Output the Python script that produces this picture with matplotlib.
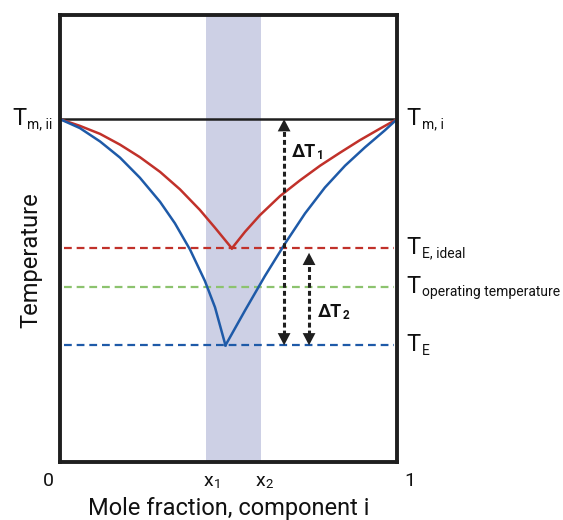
import matplotlib
matplotlib.use('Agg')
import matplotlib.pyplot as plt

plt.rcParams['font.family'] = ['Roboto', 'DejaVu Sans']

# liquidus curves (x = mole fraction of i, y = scaled temperature)
red_left_x = [0, 0.059, 0.119, 0.178, 0.237, 0.297, 0.356, 0.415, 0.460, 0.510]
red_left_y = [0.767, 0.752, 0.734, 0.710, 0.682, 0.649, 0.610, 0.564, 0.524, 0.478]
red_right_x = [0.510, 0.549, 0.593, 0.653, 0.712, 0.772, 0.831, 0.890, 0.950, 1.0]
red_right_y = [0.478, 0.515, 0.552, 0.595, 0.630, 0.663, 0.692, 0.720, 0.746, 0.767]
blue_left_x = [0, 0.059, 0.119, 0.178, 0.237, 0.297, 0.341, 0.386, 0.430, 0.460, 0.491]
blue_left_y = [0.767, 0.747, 0.717, 0.681, 0.636, 0.582, 0.534, 0.475, 0.405, 0.346, 0.261]
blue_right_x = [0.491, 0.549, 0.608, 0.668, 0.727, 0.786, 0.846, 0.905, 0.964, 1.0]
blue_right_y = [0.261, 0.339, 0.416, 0.489, 0.556, 0.614, 0.663, 0.704, 0.742, 0.767]

# temperature levels
t_melt = 0.767
t_e_ideal = 0.478
t_operating = 0.391
t_e = 0.261

# composition window and arrow positions
x1, x2 = 0.434, 0.595
dt1_x = 0.665
dt2_x = 0.739
dt2_top = 0.468

RED = '#c1312a'
BLUE = '#1e5aa8'
GREEN = '#8cc36e'
DARK = '#1f1f1f'

fig = plt.figure(figsize=(5.63, 5.2), dpi=100)
ax = fig.add_axes([60 / 563, 1 - 462 / 520, 337 / 563, 447 / 520])
ax.set_xlim(0, 1)
ax.set_ylim(0, 1)
ax.set_xticks([])
ax.set_yticks([])
for s in ax.spines.values():
    s.set_linewidth(2.8)
    s.set_color(DARK)
    s.set_zorder(10)

ax.axvspan(x1, x2, color='#cdd0e5', lw=0, zorder=0)

dash = (0, (3.5, 2.2))
ax.plot([0.012, 0.99], [t_e_ideal, t_e_ideal], color=RED, lw=1.6, linestyle=dash, zorder=1)
ax.plot([0.012, 0.99], [t_operating, t_operating], color=GREEN, lw=1.6, linestyle=dash, zorder=1)
ax.plot([0.012, 0.99], [t_e, t_e], color=BLUE, lw=1.6, linestyle=dash, zorder=1)
ax.plot([0, 1], [t_melt, t_melt], color=DARK, lw=1.8, zorder=2)

ax.plot(red_left_x, red_left_y, color=RED, lw=1.8, zorder=3, solid_joinstyle='round')
ax.plot(red_right_x, red_right_y, color=RED, lw=1.8, zorder=3, solid_joinstyle='round')
ax.plot(blue_left_x, blue_left_y, color=BLUE, lw=1.8, zorder=3, solid_joinstyle='round')
ax.plot(blue_right_x, blue_right_y, color=BLUE, lw=1.8, zorder=3, solid_joinstyle='round')


def double_arrow(x, y0, y1):
    head = 0.024
    ax.plot([x, x], [y0 + head, y1 - head], color=DARK, lw=2.2,
            linestyle=(0, (1.6, 1.0)), zorder=4)
    for tip, tail in ((y1, y1 - 0.05), (y0, y0 + 0.05)):
        ax.annotate('', xy=(x, tip), xytext=(x, tail),
                    arrowprops=dict(arrowstyle='-|>,head_length=0.44,head_width=0.23',
                                    mutation_scale=20, lw=0, color=DARK,
                                    shrinkA=0, shrinkB=0), zorder=5)


double_arrow(dt1_x, t_e, t_melt)
double_arrow(dt2_x, t_e, dt2_top)


def sub_text(x, y, main, sub, size, subsize, weight='normal', dy=-3.6, sdy=-1.3, sdx=1.2):
    t = ax.annotate(main, xy=(x, y), xytext=(0, dy), textcoords='offset points',
                    fontsize=size, fontweight=weight, va='baseline', ha='left',
                    color='#111111', annotation_clip=False)
    ax.annotate(sub, xy=(1, 0), xycoords=t, xytext=(sdx, sdy), textcoords='offset points',
                fontsize=subsize, fontweight=weight, va='bottom', ha='left',
                color='#111111', annotation_clip=False)


# temperature labels
sub_text(-0.1424, t_melt, 'T', 'm, ii', 17, 10, dy=-4.2, sdy=-1.0, sdx=0.6)
sub_text(1.029, t_melt, 'T', 'm, i', 17, 10, dy=-4.2, sdy=-1.0, sdx=0.6)
sub_text(1.029, t_e_ideal, 'T', 'E, ideal', 17, 10, dy=-4.2, sdy=-1.0, sdx=0.6)
sub_text(1.029, t_operating, 'T', 'operating temperature', 17, 10, dy=-4.2, sdy=-1.0, sdx=0.6)
sub_text(1.029, t_e, 'T', 'E', 17, 10, dy=-4.2, sdy=-1.0, sdx=0.6)

# delta labels
sub_text(0.688, 0.683, '\u0394T', '1', 13, 8.5, weight='bold', dy=0, sdy=-0.8, sdx=0.3)
sub_text(0.766, 0.325, '\u0394T', '2', 13, 8.5, weight='bold', dy=0, sdy=-0.8, sdx=0.3)

# composition axis labels
ax.text(-0.034, -0.0537, '0', fontsize=14, ha='center', va='baseline', color='#111111')
ax.text(1.039, -0.0537, '1', fontsize=14, ha='center', va='baseline', color='#111111')
sub_text(0.425, -0.0537, 'x', '1', 14, 9.5, dy=0, sdy=-1.0, sdx=0.8)
sub_text(0.579, -0.0537, 'x', '2', 14, 9.5, dy=0, sdy=-1.0, sdx=0.8)

ax.text(0.5, -0.1186, 'Mole fraction, component i', fontsize=17, ha='center',
        va='baseline', color='#111111')
ax.text(-0.086, 0.452, 'Temperature', fontsize=17, ha='center', va='center',
        rotation=90, color='#111111')

fig.savefig('out.png', dpi=100)
